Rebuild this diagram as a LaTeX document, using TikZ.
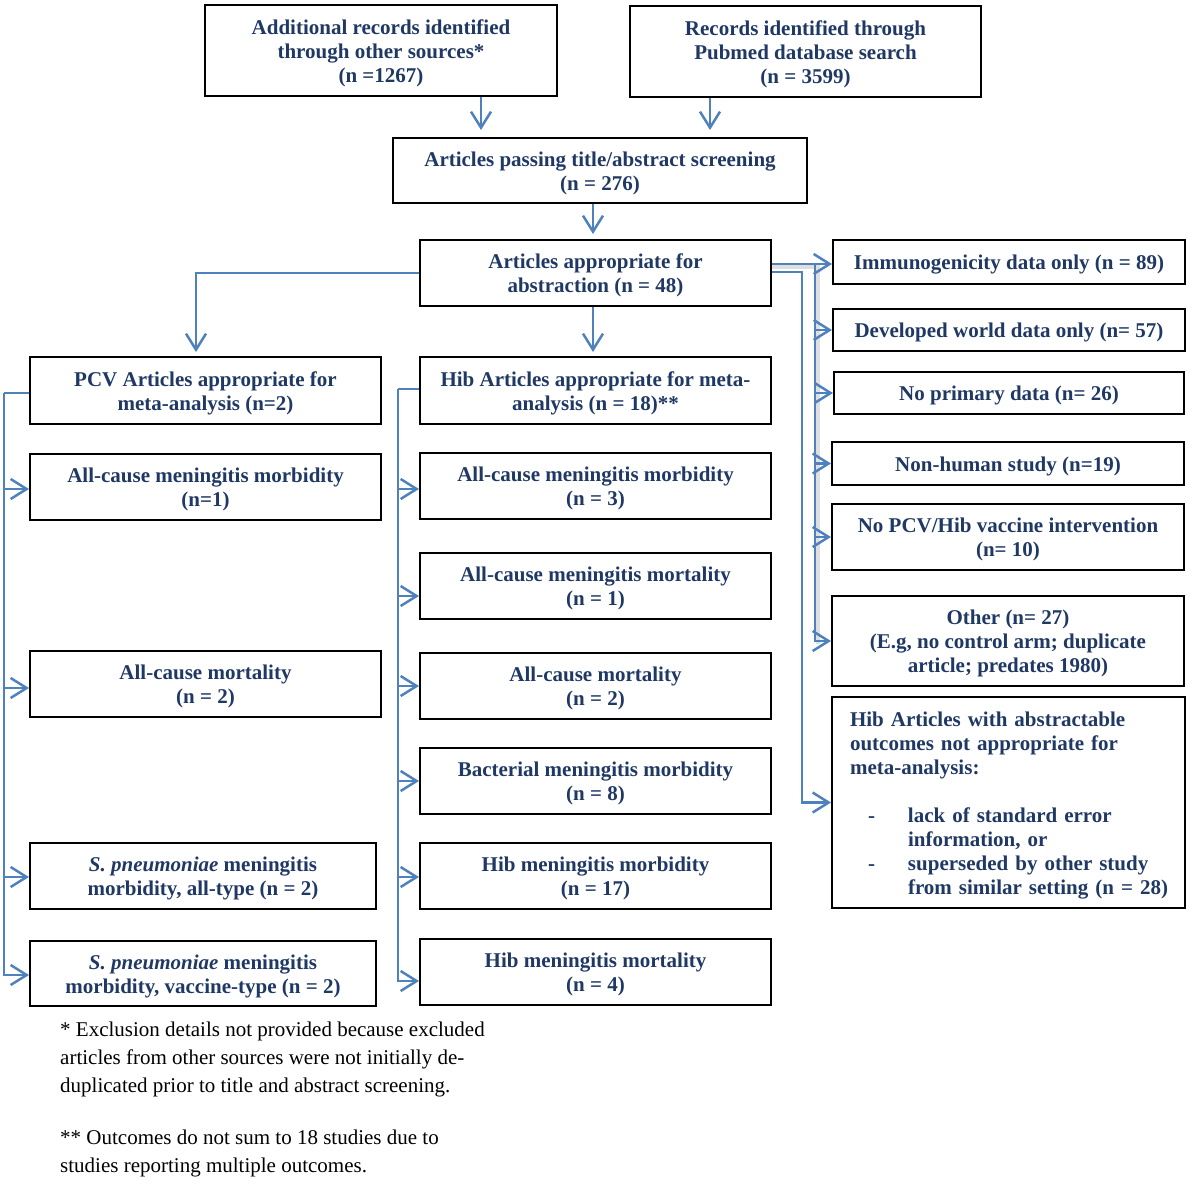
\documentclass[tikz,border=0pt]{standalone}
\usepackage{fontspec}
\setmainfont{Liberation Serif}
\usetikzlibrary{arrows.meta,calc}
\definecolor{txt}{HTML}{1F3864}
\definecolor{arrc}{HTML}{4F81BD}
\newcommand{\indA}{\hspace*{18pt}}
\newcommand{\fs}{\rule{0pt}{20pt}}
\begin{document}
\begin{tikzpicture}[x=1pt,y=-1pt,
 box/.style={draw=black, line width=2pt, text=txt, font=\fontsize{21}{24}\selectfont\bfseries, align=center, inner sep=0pt},
 arr/.style={draw=arrc, line width=2.5pt, -{Straight Barb[length=16pt,width=20pt]}},
 ln/.style={draw=arrc, line width=2.5pt},
 shade/.style={draw=gray!25, line width=4pt},
 note/.style={font=\fontsize{21}{28}\selectfont, align=left, anchor=north west, inner sep=0pt, text=black}]
\useasboundingbox (0,0) rectangle (1200,1189);

% top
\node[box, minimum width=352, minimum height=91] (add) at (381,50.5) {\fs Additional records identified\\ through other sources*\\ (n =1267)};
\node[box, minimum width=351, minimum height=91] (pub) at (805.5,51.5) {\fs Records identified through\\ Pubmed database search\\ (n = 3599)};
\node[box, minimum width=414, minimum height=65] (pass) at (600,170.5) {\fs Articles passing title/abstract screening\\ (n = 276)};
\node[box, minimum width=351, minimum height=66] (appr) at (595.5,273) {\fs Articles appropriate for\\ abstraction (n = 48)};

% PCV column
\node[box, minimum width=351, minimum height=67] (pcv) at (205.5,390.5) {\fs PCV Articles appropriate for\\ meta-analysis (n=2)};
\node[box, minimum width=351, minimum height=66] (p1) at (205.5,487) {\fs All-cause meningitis morbidity\\ (n=1)};
\node[box, minimum width=351, minimum height=66] (p2) at (205.5,684) {\fs All-cause mortality\\ (n = 2)};
\node[box, minimum width=346, minimum height=66] (p3) at (203,876) {\fs\textit{S. pneumoniae} meningitis\\ morbidity, all-type (n = 2)};
\node[box, minimum width=346, minimum height=65] (p4) at (203,973.5) {\fs\textit{S. pneumoniae} meningitis\\ morbidity, vaccine-type (n = 2)};

% Hib column
\node[box, minimum width=351, minimum height=67] (hib) at (595.5,390.5) {\fs Hib Articles appropriate for meta-\\ analysis (n = 18)**};
\node[box, minimum width=351, minimum height=66] (h1) at (595.5,486) {\fs All-cause meningitis morbidity\\ (n = 3)};
\node[box, minimum width=351, minimum height=66] (h2) at (595.5,586) {\fs All-cause meningitis mortality\\ (n = 1)};
\node[box, minimum width=351, minimum height=66] (h3) at (595.5,686) {\fs All-cause mortality\\ (n = 2)};
\node[box, minimum width=351, minimum height=66] (h4) at (595.5,781) {\fs Bacterial meningitis morbidity\\ (n = 8)};
\node[box, minimum width=351, minimum height=66] (h5) at (595.5,876) {\fs Hib meningitis morbidity\\ (n = 17)};
\node[box, minimum width=351, minimum height=66] (h6) at (595.5,972) {\fs Hib meningitis mortality\\ (n = 4)};

% right column
\node[box, minimum width=352, minimum height=44] (r1) at (1009,262) {\fs Immunogenicity data only (n = 89)};
\node[box, minimum width=352, minimum height=42] (r2) at (1009,330) {\fs Developed world data only (n= 57)};
\node[box, minimum width=350, minimum height=42] (r3) at (1009,393) {\fs No primary data (n= 26)};
\node[box, minimum width=352, minimum height=43] (r4) at (1008,463.5) {\fs Non-human study (n=19)};
\node[box, minimum width=352, minimum height=66] (r5) at (1008,537) {\fs No PCV/Hib vaccine intervention\\ (n= 10)};
\node[box, minimum width=352, minimum height=90] (r6) at (1008,641) {\fs Other (n= 27)\\ (E.g, no control arm; duplicate\\ article; predates 1980)};
\node[box, align=left, text width=353pt, inner xsep=0pt, minimum height=211] (r7) at (1008.5,802.5) {\fs\indA Hib Articles with abstractable\\
\indA outcomes not appropriate for\\
\indA meta-analysis:\\[24pt]
\indA\makebox[58pt][l]{\hspace*{18pt}-}lack of standard error\\
\indA\hspace*{58pt}information, or\\
\indA\makebox[58pt][l]{\hspace*{18pt}-}superseded by other study\\
\indA\hspace*{58pt}from similar setting (n = 28)};

% notes
\node[note] (n1) at (60,1021.5) {* Exclusion details not provided because excluded\\ articles from other sources were not initially de-\\ duplicated prior to title and abstract screening.};
\node[note] (n2) at (60,1129.5) {** Outcomes do not sum to 18 studies due to\\ studies reporting multiple outcomes.};

% connectors top
\draw[arr, shorten >=7pt] ([xshift=100pt]add.south) -- ([xshift=100pt]add.south |- pass.north);
\draw[arr, shorten >=7pt] ([xshift=-95.5pt]pub.south) -- ([xshift=-95.5pt]pub.south |- pass.north);
\draw[arr, shorten >=5pt] ([xshift=-2.5pt]appr.north |- pass.south) -- ([xshift=-2.5pt]appr.north);
\draw[arr, shorten >=4pt] (appr.west) -| ([xshift=-9.5pt]pcv.north);
\draw[arr, shorten >=4pt] ([xshift=-2.5pt]appr.south) -- ([xshift=-2.5pt]hib.north);

% right connectors
\coordinate (rv) at (815,264);
\coordinate (rv2) at (802,272);
\draw[shade] ($([yshift=9pt]appr.east)+(0,3)$) -- ($(rv)+(3,3)$) -- ($(rv |- r6.west)+(3,3)$);
\draw[arr] ([yshift=9pt]appr.east) -- ([yshift=9pt]appr.east -| r1.west);
\draw[arr] (rv) |- (r2.west);
\draw[arr] (rv) |- (r3.west);
\draw[arr] (rv) |- (r4.west);
\draw[arr] (rv) |- (r5.west);
\draw[arr] (rv) |- (r6.west);
\draw[arr] ([yshift=1pt]appr.east) -- (rv2) |- (r7.west);

% PCV trunk
\coordinate (lv) at (4,393);
\draw[ln] ([yshift=-2.5pt]pcv.west) -- (lv);
\draw[arr] (lv) |- ([yshift=-2pt]p1.west);
\draw[arr] (lv) |- ([yshift=-4pt]p2.west);
\draw[arr] (lv) |- ([yshift=-1pt]p3.west);
\draw[arr] (lv) |- ([yshift=-1.5pt]p4.west);

% Hib trunk
\coordinate (hv) at (398,389);
\draw[ln] ([yshift=1.5pt]hib.west) -- (hv);
\draw[arr] (hv) |- ([yshift=-3pt]h1.west);
\draw[arr] (hv) |- ([yshift=-10pt]h2.west);
\draw[arr] (hv) |- (h3.west);
\draw[arr] (hv) |- (h4.west);
\draw[arr] (hv) |- ([yshift=-1pt]h5.west);
\draw[arr] (hv) |- ([yshift=-9pt]h6.west);
\end{tikzpicture}
\end{document}
